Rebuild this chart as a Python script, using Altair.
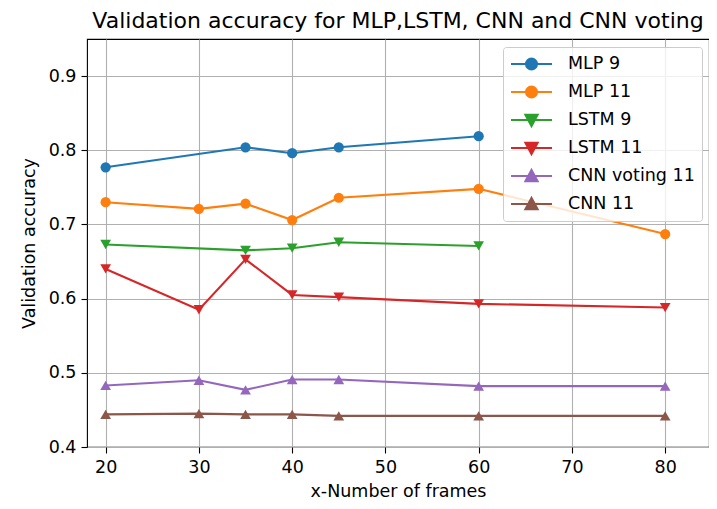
import altair as alt
import pandas as pd

series_names = ["MLP 9", "MLP 11", "LSTM 9", "LSTM 11", "CNN voting 11", "CNN 11"]
series_colors = ["#1f77b4", "#ff7f0e", "#2ca02c", "#d62728", "#9467bd", "#8c564b"]
series_markers = ["circle", "circle", "triangle-down", "triangle-down", "triangle-up", "triangle-up"]

mlp9_frames = [20, 35, 40, 45, 60]
mlp9_acc = [0.777, 0.804, 0.796, 0.804, 0.819]
mlp11_frames = [20, 30, 35, 40, 45, 60, 80]
mlp11_acc = [0.730, 0.721, 0.728, 0.706, 0.736, 0.748, 0.687]
lstm9_frames = [20, 35, 40, 45, 60]
lstm9_acc = [0.673, 0.665, 0.668, 0.676, 0.671]
lstm11_frames = [20, 30, 35, 40, 45, 60, 80]
lstm11_acc = [0.640, 0.585, 0.653, 0.605, 0.602, 0.593, 0.588]
cnnv11_frames = [20, 30, 35, 40, 45, 60, 80]
cnnv11_acc = [0.483, 0.490, 0.477, 0.491, 0.491, 0.482, 0.482]
cnn11_frames = [20, 30, 35, 40, 45, 60, 80]
cnn11_acc = [0.444, 0.445, 0.444, 0.444, 0.442, 0.442, 0.442]

x_ticks = [20, 30, 40, 50, 60, 70, 80]
y_ticks = [0.4, 0.5, 0.6, 0.7, 0.8, 0.9]

all_frames = [mlp9_frames, mlp11_frames, lstm9_frames, lstm11_frames, cnnv11_frames, cnn11_frames]
all_acc = [mlp9_acc, mlp11_acc, lstm9_acc, lstm11_acc, cnnv11_acc, cnn11_acc]

rows = []
for i, name in enumerate(series_names):
    for f, a in zip(all_frames[i], all_acc[i]):
        rows.append({"series": name, "frames": f, "acc": a, "marker": series_markers[i],
                     "hex": series_colors[i], "order": i})
df = pd.DataFrame(rows)

# legend symbols: line segment with marker
legend_paths = {
    "circle": "M-1,0L1,0M0.27,0A0.27,0.27,0,1,1,-0.27,0A0.27,0.27,0,1,1,0.27,0Z",
    "triangle-down": "M-1,0L1,0M-0.3,-0.26L0.3,-0.26L0,0.3Z",
    "triangle-up": "M-1,0L1,0M-0.3,0.26L0.3,0.26L0,-0.3Z",
}
legend_shape_range = [legend_paths[m] for m in series_markers]

FONT = "DejaVu Sans"

x_enc = alt.X("frames:Q", title="x-Number of frames",
              scale=alt.Scale(domain=[18, 84.7], nice=False, zero=False),
              axis=alt.Axis(values=x_ticks, format="d"))
y_enc = alt.Y("acc:Q", title="Validation accuracy",
              scale=alt.Scale(domain=[0.4, 0.95], nice=False, zero=False),
              axis=alt.Axis(values=y_ticks, format=".1f"))
color_direct = alt.Color("hex:N", scale=None)

base = alt.Chart(df)

lines = base.mark_line(strokeWidth=2.1).encode(
    x=x_enc, y=y_enc, color=color_direct, detail="series:N"
)

point_layers = []
for m in ["circle", "triangle-down", "triangle-up"]:
    point_layers.append(
        base.transform_filter(alt.datum.marker == m)
        .mark_point(shape=m, filled=True, size=105 if m == "circle" else 115, opacity=1)
        .encode(x=x_enc, y=y_enc, color=color_direct)
    )

leg = alt.Legend(
    title=None, orient="none", legendX=416, legendY=8,
    symbolSize=1681, clipHeight=20, rowPadding=8, padding=7,
    labelOffset=15, labelFontSize=17.5, labelFont=FONT, labelColor="#000000",
    symbolStrokeWidth=2, fillColor="rgba(255,255,255,0.8)", strokeColor="#cccccc",
    cornerRadius=3, symbolOpacity=1, labelLimit=300,
)

legend_layer = base.transform_filter("false").mark_point(filled=True, strokeWidth=2, opacity=1).encode(
    x=x_enc, y=y_enc,
    color=alt.Color("series:N", scale=alt.Scale(domain=series_names, range=series_colors), legend=leg),
    stroke=alt.Stroke("series:N", scale=alt.Scale(domain=series_names, range=series_colors), legend=leg),
    shape=alt.Shape("series:N", scale=alt.Scale(domain=series_names, range=legend_shape_range), legend=leg),
)

chart = alt.layer(lines, *point_layers, legend_layer).properties(
    width=622, height=408,
    title=alt.TitleParams("Validation accuracy for MLP,LSTM, CNN and CNN voting",
                          fontSize=22, font=FONT, fontWeight="normal", color="#000000",
                          anchor="middle", offset=6),
    autosize=alt.AutoSizeParams(type="none"),
    padding={"left": 79, "top": 31, "right": 0, "bottom": 54},
).configure_view(
    stroke="#000000", strokeWidth=1.1
).configure_axis(
    domain=False, grid=True, gridColor="#b0b0b0", gridWidth=1.1,
    ticks=True, tickColor="#000000", tickSize=6, tickWidth=1.1,
    labelFont=FONT, labelFontSize=17.5, labelColor="#000000",
    titleFont=FONT, titleFontSize=17.5, titleColor="#000000", titleFontWeight="normal",
    labelPadding=5,
).configure_axisX(
    titlePadding=7
).configure_axisY(
    titlePadding=10
)

chart.save("out.html", embed_options={"renderer": "svg", "actions": False})
